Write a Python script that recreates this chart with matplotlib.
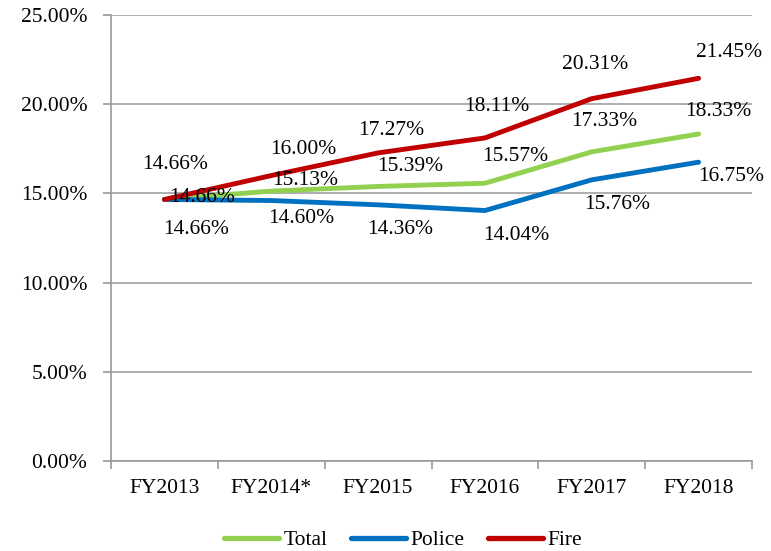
import matplotlib
matplotlib.use("Agg")
import matplotlib.pyplot as plt
from matplotlib.ticker import FuncFormatter, MultipleLocator

categories = ["FY2013", "FY2014*", "FY2015", "FY2016", "FY2017", "FY2018"]
total = [14.66, 15.13, 15.39, 15.57, 17.33, 18.33]
police = [14.66, 14.60, 14.36, 14.04, 15.76, 16.75]
fire = [14.66, 16.00, 17.27, 18.11, 20.31, 21.45]

plt.rcParams['font.family'] = ['Liberation Serif', 'DejaVu Serif']

fig = plt.figure(figsize=(7.71, 5.51), dpi=100)
ax = fig.add_axes([111/771, 1 - 461/551, (752-111)/771, (461-15)/551])

x = list(range(len(categories)))
colors = {"Total": "#92D050", "Police": "#0070C0", "Fire": "#C00000"}
series = [("Total", total), ("Police", police), ("Fire", fire)]
for name, vals in series:
    ax.plot(x, vals, color=colors[name], lw=3.5, solid_capstyle='round', label=name, zorder=3)

# label offsets in pixels (layout only)
offs = {
    "Total": [(38, 2), (34, 11), (32, 20), (30, 27), (12, 30), (20, 22)],
    "Police": [(32, -30), (30, -18), (22, -25), (31, -25), (25, -25), (33, -14)],
    "Fire": [(11, 35), (32, 26), (13, 22), (12, 31), (3, 34), (30, 26)],
}
for name, vals in series:
    for i, v in enumerate(vals):
        dx, dy = offs[name][i]
        ax.annotate(f"{v:.2f}%", (i, v), xytext=(dx, dy), textcoords='offset pixels',
                    ha='center', va='center', fontsize=15.5, color='black', zorder=4)

ax.set_xlim(-0.5, len(categories) - 0.5)
ax.set_ylim(0, 25)
ax.yaxis.set_major_locator(MultipleLocator(5))
ax.yaxis.set_major_formatter(FuncFormatter(lambda v, p: f"{v:.2f}%"))
ax.set_xticks(x)
ax.set_xticklabels(categories)
ax.set_xticks([i - 0.5 for i in range(len(categories) + 1)], minor=True)
ax.tick_params(axis='x', which='major', length=0, pad=13, labelsize=15.5)
ax.tick_params(axis='x', which='minor', length=6, color='#9a9a9a', width=1.2)
ax.tick_params(axis='y', length=6, color='#9a9a9a', width=1.2, labelsize=15.5, pad=11)

ax.grid(axis='y', color='#a0a0a0', lw=1.2, zorder=0)
ax.set_axisbelow(True)
for s in ['top', 'right']:
    ax.spines[s].set_visible(False)
for s in ['left', 'bottom']:
    ax.spines[s].set_color('#9a9a9a')
    ax.spines[s].set_linewidth(1.2)

leg = fig.legend(loc='center', bbox_to_anchor=(403/771, 1 - 540/551), ncol=3, frameon=False,
                 fontsize=15.5, handlelength=2.55, handletextpad=0.2, columnspacing=1.1,
                 borderpad=0)
for l in leg.get_lines():
    l.set_linewidth(3.8)

fig.savefig("out.png", dpi=100)
